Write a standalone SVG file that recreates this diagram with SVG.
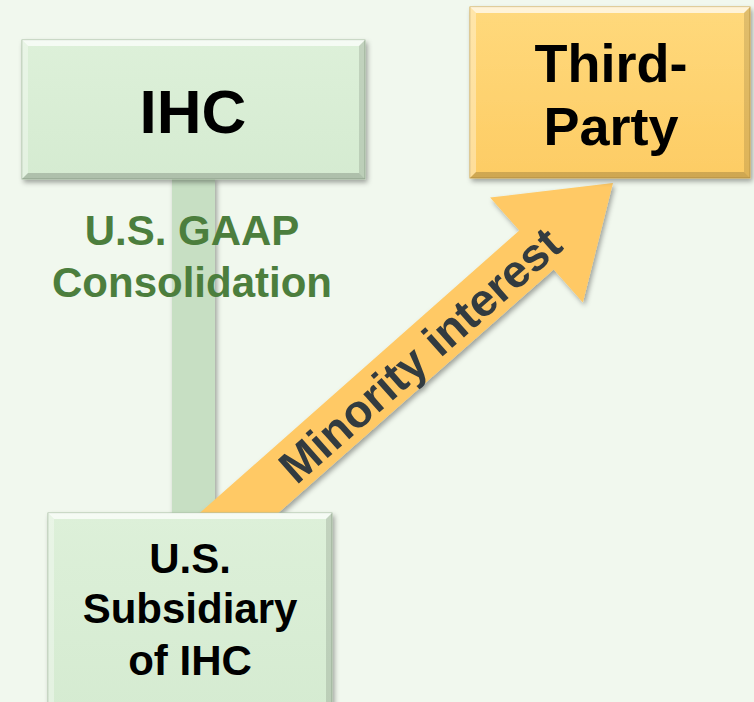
<svg xmlns="http://www.w3.org/2000/svg" width="754" height="702" viewBox="0 0 754 702">
<defs>
<filter id="sh" x="-10%" y="-10%" width="130%" height="130%">
<feDropShadow dx="2" dy="3" stdDeviation="2.5" flood-color="#000" flood-opacity="0.35"/>
</filter>
<linearGradient id="gGreen" x1="0" y1="0" x2="0" y2="1">
<stop offset="0" stop-color="#DDF0D9"/>
<stop offset="1" stop-color="#D5EBD1"/>
</linearGradient>
<linearGradient id="gGold" x1="0" y1="0" x2="0" y2="1">
<stop offset="0" stop-color="#FFD97C"/>
<stop offset="1" stop-color="#FDCC64"/>
</linearGradient>
<style>
.lbl{font-family:"Liberation Sans",Arial,sans-serif;font-weight:bold;fill:#000;text-anchor:middle}
.grn{font-family:"Liberation Sans",Arial,sans-serif;font-weight:bold;fill:#4C7E3D;text-anchor:middle;font-size:42px}
.bevT{fill:#fff;opacity:0.7}
.bevL{fill:#fff;opacity:0.35}
.bevR{fill:#000;opacity:0.12}
.bevB{fill:#000;opacity:0.18}
</style>
</defs>
<rect width="754" height="702" fill="#F1F8EE"/>

<g id="connectors">
<rect x="172" y="178" width="43" height="336" fill="#C7DFC3" filter="url(#sh)"/>
<g id="arrow" filter="url(#sh)">
<polygon points="192.3,519.5 519.3,230.5 490.1,197.6 613,183 582.9,302.4 553.7,269.5 226.7,558.5" fill="#FFC965"/>
<text transform="translate(420,355) rotate(-41.5)" y="16" font-family="Liberation Sans, Arial, sans-serif" font-weight="bold" font-size="46" fill="#333B40" text-anchor="middle">Minority interest</text>
</g>
</g>

<g id="ihc">
<rect x="22" y="40" width="343" height="139" fill="url(#gGreen)" stroke="#A9BFA5" stroke-width="1" filter="url(#sh)"/>
<polygon class="bevT" points="22,40 365,40 359,46 28,46"/>
<polygon class="bevL" points="22,40 28,46 28,173 22,179"/>
<polygon class="bevR" points="365,40 365,179 359,173 359,46"/>
<polygon class="bevB" points="22,179 365,179 359,173 28,173"/>
<text class="lbl" x="193" y="133" font-size="62">IHC</text>
</g>

<g id="gaap-label">
<text class="grn" x="192" y="245">U.S. GAAP</text>
<text class="grn" x="192" y="297">Consolidation</text>
</g>

<g id="third-party">
<rect x="470" y="7" width="280" height="171" fill="url(#gGold)" stroke="#D4AA50" stroke-width="1" filter="url(#sh)"/>
<polygon class="bevT" points="470,7 750,7 744,13 476,13"/>
<polygon class="bevL" points="470,7 476,13 476,172 470,178"/>
<polygon class="bevR" points="750,7 750,178 744,172 744,13"/>
<polygon class="bevB" points="470,178 750,178 744,172 476,172"/>
<text class="lbl" x="611" y="82" font-size="54">Third-</text>
<text class="lbl" x="611" y="145" font-size="54">Party</text>
</g>

<g id="subsidiary">
<rect x="48" y="513" width="284" height="200" fill="url(#gGreen)" stroke="#A9BFA5" stroke-width="1" filter="url(#sh)"/>
<polygon class="bevT" points="48,513 332,513 326,519 54,519"/>
<polygon class="bevL" points="48,513 54,519 54,702 48,702"/>
<polygon class="bevR" points="332,513 332,702 326,702 326,519"/>
<text class="lbl" x="190" y="573" font-size="42">U.S.</text>
<text class="lbl" x="190" y="623" font-size="42">Subsidiary</text>
<text class="lbl" x="190" y="675" font-size="42">of IHC</text>
</g>
</svg>
